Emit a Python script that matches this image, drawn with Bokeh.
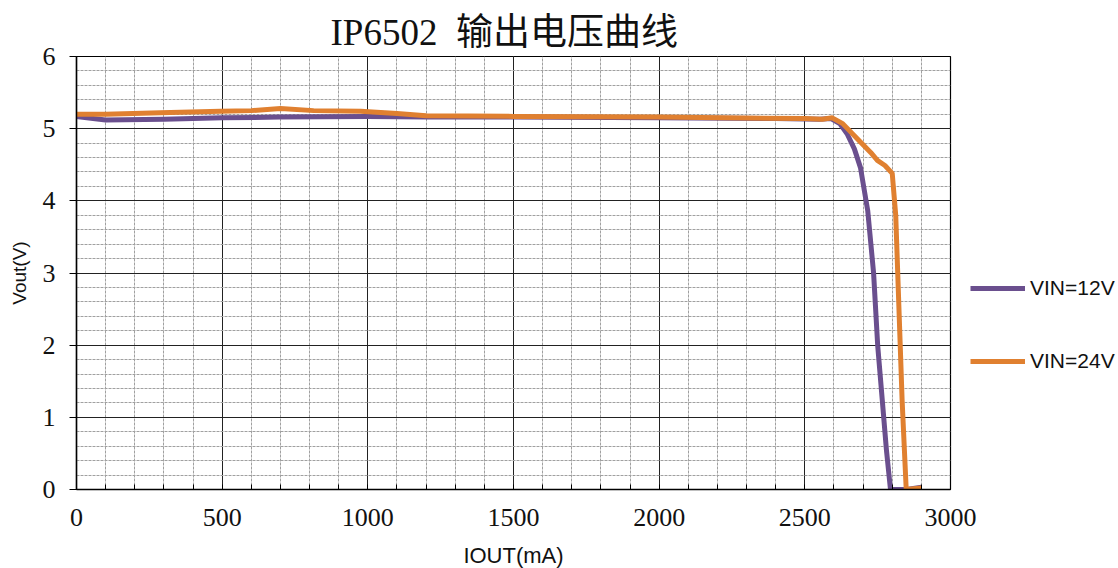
from bokeh.plotting import figure
from bokeh.models import Legend, LegendItem, FixedTicker, Range1d
from bokeh.embed import file_html
from bokeh.resources import INLINE

# data
vin12_x = [0, 100, 300, 500, 700, 1000, 1200, 1500, 2000, 2400, 2550, 2590, 2620, 2645, 2670, 2691, 2716, 2736, 2750, 2766, 2780, 2794, 2850, 2900]
vin12_y = [5.17, 5.12, 5.13, 5.15, 5.16, 5.17, 5.16, 5.16, 5.15, 5.14, 5.13, 5.14, 5.07, 4.93, 4.72, 4.46, 3.86, 3.0, 2.0, 1.23, 0.55, 0.0, 0.0, 0.03]
vin24_x = [0, 100, 288, 494, 600, 700, 814, 975, 1100, 1200, 1500, 2000, 2500, 2560, 2594, 2630, 2680, 2726, 2749, 2775, 2800, 2812, 2834, 2848, 2900]
vin24_y = [5.20, 5.20, 5.22, 5.24, 5.25, 5.28, 5.25, 5.24, 5.21, 5.18, 5.17, 5.16, 5.14, 5.13, 5.15, 5.07, 4.86, 4.67, 4.56, 4.49, 4.38, 3.8, 1.23, 0.0, 0.02]
x_ticks = [0, 500, 1000, 1500, 2000, 2500, 3000]
y_ticks = [0, 1, 2, 3, 4, 5, 6]

p = figure(frame_width=874, frame_height=433, output_backend="svg", toolbar_location=None,
           x_range=Range1d(0, 3000), y_range=Range1d(0, 6),
           min_border_left=76, min_border_right=150, min_border_bottom=60, min_border_top=56)

p.title.text = "IP6502 \u00a0输出电压曲线"
p.title.text_font = "Liberation Serif, Noto Sans CJK SC"
p.title.text_font_size = "37px"
p.title.text_font_style = "normal"
p.title.align = "left"
p.title.text_color = "#111111"
p.title.offset = 254
p.title.standoff = 7

l1 = p.line(vin12_x, vin12_y, line_color="#6a4f8e", line_width=5, line_join="round")
l2 = p.line(vin24_x, vin24_y, line_color="#e08030", line_width=5, line_join="round")

for ax in (p.xaxis[0], p.yaxis[0]):
    ax.major_label_text_font = "Liberation Serif"
    ax.major_label_text_font_size = "26px"
    ax.major_label_text_color = "#111111"
    ax.axis_line_color = "#000000"
    ax.axis_line_width = 1.5
    ax.axis_label_text_font = "Liberation Sans"
    ax.axis_label_text_font_style = "normal"
    ax.axis_label_text_color = "#111111"

p.xaxis.ticker = FixedTicker(ticks=x_ticks, minor_ticks=list(range(0, 3001, 100)))
p.yaxis.ticker = FixedTicker(ticks=y_ticks, minor_ticks=[i * 0.2 for i in range(31)])
p.xaxis.axis_label = "IOUT(mA)"
p.xaxis.axis_label_text_font_size = "22px"
p.yaxis.axis_label = "Vout(V)"
p.yaxis.axis_label_text_font_size = "19px"
p.xaxis.major_tick_out = 0
p.xaxis.major_tick_in = 0
p.xaxis.minor_tick_in = 5
p.xaxis.minor_tick_out = 0
p.xaxis.major_label_standoff = 19
p.xaxis.axis_label_standoff = 14
p.yaxis.major_tick_out = 7
p.yaxis.major_tick_in = 0
p.yaxis.minor_tick_in = 0
p.yaxis.minor_tick_out = 0
p.yaxis.major_label_standoff = 14
p.yaxis.axis_label_standoff = 10

for g in (p.xgrid[0], p.ygrid[0]):
    g.grid_line_color = "#222222"
    g.grid_line_width = 1
    g.minor_grid_line_color = "#a0a0a0"
    g.minor_grid_line_dash = "3 1"
    g.minor_grid_line_width = 1

p.outline_line_color = "#000000"
p.outline_line_width = 1.2

legend = Legend(items=[LegendItem(label="VIN=12V", renderers=[l1]),
                       LegendItem(label="VIN=24V", renderers=[l2])],
                location=(20, 116), orientation="vertical")
legend.label_text_font = "Liberation Sans"
legend.label_text_font_size = "21px"
legend.label_text_color = "#111111"
legend.glyph_width = 55
legend.glyph_height = 20
legend.label_height = 20
legend.label_standoff = 5
legend.spacing = 49
legend.padding = 0
legend.margin = 0
legend.border_line_color = None
legend.background_fill_alpha = 0
p.add_layout(legend, "right")

open("out.html", "w").write(file_html(p, INLINE))
